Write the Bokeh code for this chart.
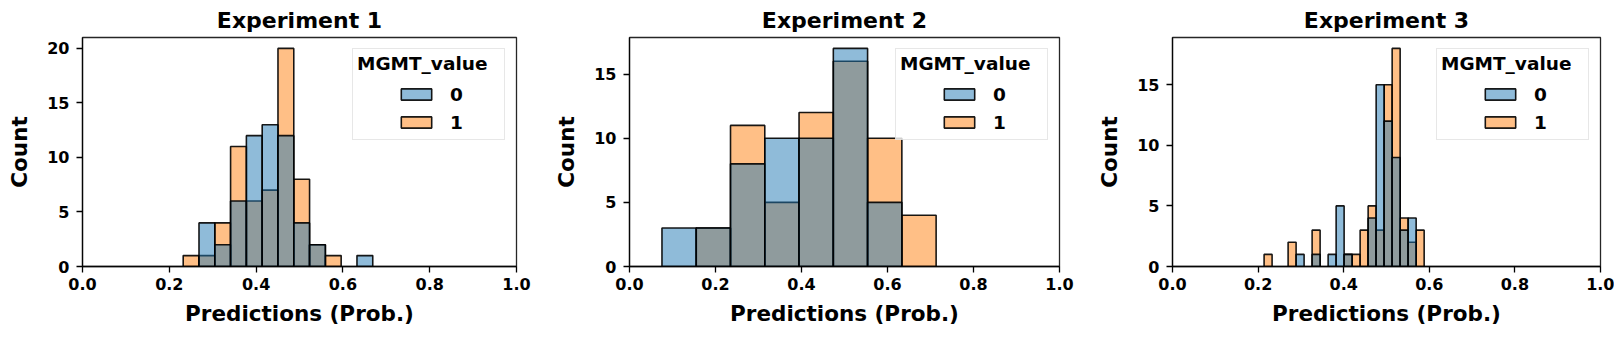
import numpy as np
from bokeh.plotting import figure
from bokeh.layouts import row
from bokeh.models import Range1d, FixedTicker, Legend, LegendItem, PrintfTickFormatter
from bokeh.embed import file_html
from bokeh.resources import INLINE

# ---------------- data ----------------
titles = ["Experiment 1", "Experiment 2", "Experiment 3"]
legend_title = "MGMT_value"
hue_levels = ["0", "1"]
x_label = "Predictions (Prob.)"
y_label = "Count"
x_ticks = [0.0, 0.2, 0.4, 0.6, 0.8, 1.0]
y_ticks = [0, 5, 10, 15, 20]

exp1_bin_start = 0.232
exp1_bin_width = 0.0364
exp1_counts_0 = [0, 4, 2, 6, 12, 13, 12, 4, 2, 0, 0, 1]
exp1_counts_1 = [1, 1, 4, 11, 6, 7, 20, 8, 2, 1, 0, 0]

exp2_bin_start = 0.0755
exp2_bin_width = 0.0797
exp2_counts_0 = [3, 3, 8, 10, 10, 17, 5, 0]
exp2_counts_1 = [0, 3, 11, 5, 12, 16, 10, 4]

exp3_bin_start = 0.214
exp3_bin_width = 0.0187
exp3_counts_0 = [0, 0, 0, 0, 1, 0, 1, 0, 1, 5, 1, 0, 0, 4, 15, 12, 9, 3, 4, 0]
exp3_counts_1 = [1, 0, 0, 2, 0, 0, 3, 0, 0, 0, 1, 1, 3, 5, 3, 15, 18, 4, 2, 3]

# ---------------- style ----------------
BLUE = "#1f77b4"
ORANGE = "#ff7f0e"
FONT = "DejaVu Sans"


def make_panel(title, start, width, c0, c1, w, bl, br):
    c0 = np.asarray(c0)
    c1 = np.asarray(c1)
    n = len(c0)
    edges = start + width * np.arange(n + 1)
    ymax = max(c0.max(), c1.max()) * 1.05
    p = figure(width=w, height=334, x_range=Range1d(0, 1), y_range=Range1d(0, ymax),
               output_backend="svg", toolbar_location=None,
               min_border_left=bl, min_border_right=br,
               min_border_top=36, min_border_bottom=68)
    p.background_fill_color = "white"
    p.border_fill_color = "white"
    p.grid.visible = False
    p.outline_line_color = "black"
    p.outline_line_width = 1.3
    p.outline_line_alpha = 0.85

    m1 = c1 > 0
    m0 = c0 > 0
    r1 = p.quad(left=edges[:-1][m1], right=edges[1:][m1], bottom=0, top=c1[m1],
                fill_color=ORANGE, fill_alpha=0.5, line_color="black",
                line_alpha=0.9, line_width=1.6)
    r0 = p.quad(left=edges[:-1][m0], right=edges[1:][m0], bottom=0, top=c0[m0],
                fill_color=BLUE, fill_alpha=0.5, line_color="black",
                line_alpha=0.9, line_width=1.6)

    p.title.text = title
    p.title.align = "center"
    p.title.text_font = FONT
    p.title.text_font_style = "bold"
    p.title.text_font_size = "22px"
    p.title.text_color = "black"
    p.title.standoff = 10

    for ax in (p.xaxis[0], p.yaxis[0]):
        ax.major_label_text_font = FONT
        ax.major_label_text_font_style = "bold"
        ax.major_label_text_font_size = "16px"
        ax.major_label_text_color = "black"
        ax.axis_label_text_font = FONT
        ax.axis_label_text_font_style = "bold"
        ax.axis_label_text_font_size = "21.5px"
        ax.axis_label_text_color = "black"
        ax.major_tick_out = 6
        ax.major_tick_in = 0
        ax.minor_tick_out = 0
        ax.minor_tick_in = 0
        ax.major_tick_line_width = 1.3
        ax.axis_line_width = 1.3
        ax.axis_line_alpha = 0.85

    p.xaxis.axis_label = x_label
    p.yaxis.axis_label = y_label
    p.xaxis.ticker = FixedTicker(ticks=x_ticks)
    p.xaxis.formatter = PrintfTickFormatter(format="%.1f")
    p.yaxis.ticker = FixedTicker(ticks=y_ticks)
    p.xaxis.major_label_standoff = 5
    p.yaxis.major_label_standoff = 7
    p.xaxis.axis_label_standoff = 8
    p.yaxis.axis_label_standoff = 12

    # legend frame with the title (placeholder rows keep the box size)
    d0 = p.quad(left=[], right=[], top=[], bottom=[], fill_alpha=0, line_alpha=0)
    d1 = p.quad(left=[], right=[], top=[], bottom=[], fill_alpha=0, line_alpha=0)
    box = Legend(items=[LegendItem(label=" ", renderers=[d0]),
                        LegendItem(label=" ", renderers=[d1])],
                 title=legend_title, location="top_right")
    box.title_text_font = FONT
    box.title_text_font_style = "bold"
    box.title_text_font_size = "18.5px"
    box.title_text_color = "black"
    box.label_text_font_size = "18.5px"
    box.glyph_width = 38
    box.glyph_height = 13
    box.label_width = 100
    box.label_height = 29
    box.spacing = 3
    box.padding = 4
    box.margin = 11
    box.title_standoff = 0
    box.border_line_color = "#d0d0d0"
    box.border_line_width = 1
    box.background_fill_alpha = 0.8
    p.add_layout(box)

    # legend entries, centred under the title
    legend = Legend(items=[LegendItem(label=hue_levels[0], renderers=[r0]),
                           LegendItem(label=hue_levels[1], renderers=[r1])],
                    location="top_right")
    legend.label_text_font = FONT
    legend.label_text_font_style = "bold"
    legend.label_text_font_size = "18.5px"
    legend.label_text_color = "black"
    legend.glyph_width = 38
    legend.glyph_height = 14
    legend.label_height = 26
    legend.label_width = 22
    legend.label_standoff = 15
    legend.spacing = 2
    legend.padding = 0
    legend.margin = 44
    legend.border_line_color = None
    legend.background_fill_alpha = 0
    p.add_layout(legend)
    return p


p1 = make_panel(titles[0], exp1_bin_start, exp1_bin_width, exp1_counts_0, exp1_counts_1, 551, 82, 35)
p2 = make_panel(titles[1], exp2_bin_start, exp2_bin_width, exp2_counts_0, exp2_counts_1, 543, 75, 35)
p3 = make_panel(titles[2], exp3_bin_start, exp3_bin_width, exp3_counts_0, exp3_counts_1, 520, 75, 14)

layout = row(p1, p2, p3)
open("out.html", "w").write(file_html(layout, INLINE))
